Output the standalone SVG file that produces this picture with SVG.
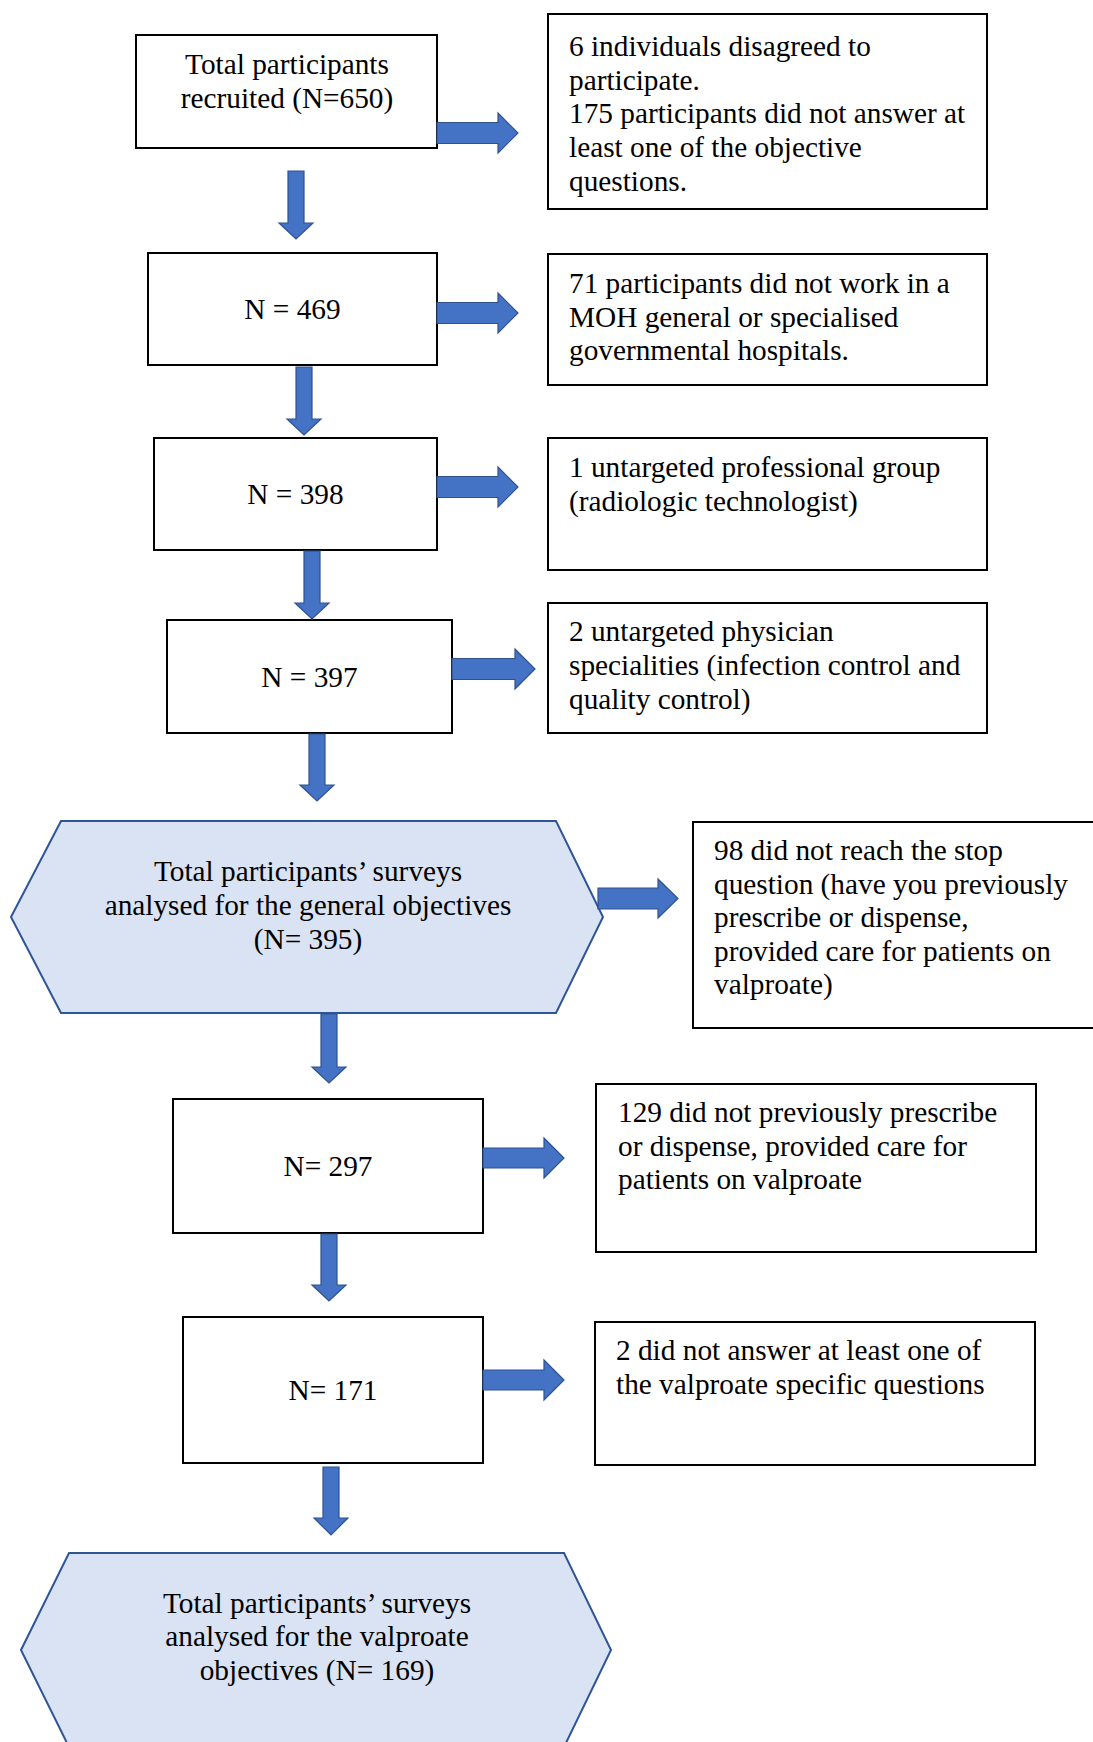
<svg xmlns="http://www.w3.org/2000/svg" width="1093" height="1742" viewBox="0 0 1093 1742">
  <style>
    .box { fill: #ffffff; stroke: #000000; stroke-width: 2; }
    .hex { fill: #dae3f3; stroke: #2f5597; stroke-width: 2; stroke-linejoin: miter; }
    .arrow { fill: #4472c4; stroke: #2f528f; stroke-width: 1.2; stroke-linejoin: miter; }
    text { font-family: "Liberation Serif", "Times New Roman", serif; font-size: 29.3px; fill: #000000; }
    .c { text-anchor: middle; }
  </style>

  <rect width="1093" height="1742" fill="#ffffff"/>

  <!-- main column -->
  <g id="node-recruited">
    <rect class="box" x="136" y="35" width="301" height="113"/>
    <text class="c" x="287" y="74">Total participants</text>
    <text class="c" x="287" y="108">recruited (N=650)</text>
  </g>
  <g id="node-469">
    <rect class="box" x="148" y="253" width="289" height="112"/>
    <text class="c" x="292.5" y="319">N = 469</text>
  </g>
  <g id="node-398">
    <rect class="box" x="154" y="438" width="283" height="112"/>
    <text class="c" x="295.5" y="504">N = 398</text>
  </g>
  <g id="node-397">
    <rect class="box" x="167" y="620" width="285" height="113"/>
    <text class="c" x="309.5" y="687">N = 397</text>
  </g>
  <g id="node-general">
    <polygon class="hex" points="11,917 61,821 556,821 603,917 556,1013 61,1013"/>
    <text class="c" x="308" y="881">Total participants’ surveys</text>
    <text class="c" x="308" y="915">analysed for the general objectives</text>
    <text class="c" x="308" y="949">(N= 395)</text>
  </g>
  <g id="node-297">
    <rect class="box" x="173" y="1099" width="310" height="134"/>
    <text class="c" x="328" y="1176">N= 297</text>
  </g>
  <g id="node-171">
    <rect class="box" x="183" y="1317" width="300" height="146"/>
    <text class="c" x="333" y="1400">N= 171</text>
  </g>
  <g id="node-valproate">
    <polygon class="hex" points="21,1650 69,1553 564,1553 611,1650 564,1747 69,1747"/>
    <text class="c" x="317" y="1613">Total participants’ surveys</text>
    <text class="c" x="317" y="1646">analysed for the valproate</text>
    <text class="c" x="317" y="1680">objectives (N= 169)</text>
  </g>

  <!-- exclusion boxes -->
  <g id="excl-objective">
    <rect class="box" x="548" y="14" width="439" height="195"/>
    <text x="569" y="56">6 individuals disagreed to</text>
    <text x="569" y="90">participate.</text>
    <text x="569" y="123">175 participants did not answer at</text>
    <text x="569" y="157">least one of the objective</text>
    <text x="569" y="191">questions.</text>
  </g>
  <g id="excl-moh">
    <rect class="box" x="548" y="254" width="439" height="131"/>
    <text x="569" y="292.5">71 participants did not work in a</text>
    <text x="569" y="326.5">MOH general or specialised</text>
    <text x="569" y="360">governmental hospitals.</text>
  </g>
  <g id="excl-profession">
    <rect class="box" x="548" y="438" width="439" height="132"/>
    <text x="569" y="477">1 untargeted professional group</text>
    <text x="569" y="511">(radiologic technologist)</text>
  </g>
  <g id="excl-specialty">
    <rect class="box" x="548" y="603" width="439" height="130"/>
    <text x="569" y="641">2 untargeted physician</text>
    <text x="569" y="675">specialities (infection control and</text>
    <text x="569" y="708.5">quality control)</text>
  </g>
  <g id="excl-stop">
    <rect class="box" x="693" y="822" width="410" height="206"/>
    <text x="714" y="860">98 did not reach the stop</text>
    <text x="714" y="894">question (have you previously</text>
    <text x="714" y="927">prescribe or dispense,</text>
    <text x="714" y="961">provided care for patients on</text>
    <text x="714" y="994">valproate)</text>
  </g>
  <g id="excl-no-care">
    <rect class="box" x="596" y="1084" width="440" height="168"/>
    <text x="618" y="1122">129 did not previously prescribe</text>
    <text x="618" y="1155.5">or dispense, provided care for</text>
    <text x="618" y="1189">patients on valproate</text>
  </g>
  <g id="excl-valproate-q">
    <rect class="box" x="595" y="1322" width="440" height="143"/>
    <text x="616" y="1360">2 did not answer at least one of</text>
    <text x="616" y="1394">the valproate specific questions</text>
  </g>

  <!-- block arrows -->
  <g id="connectors">
    <!-- rightward: shaft 21 tall, head 40 tall, head 20 long -->
    <path class="arrow" d="M437,122.5 H498 V113 L518,133 L498,153 V143.5 H437 Z"/>
    <path class="arrow" d="M437,302.5 H498 V293 L518,313 L498,333 V323.5 H437 Z"/>
    <path class="arrow" d="M437,476.5 H498 V467 L518,487 L498,507 V497.5 H437 Z"/>
    <path class="arrow" d="M452,658.5 H515 V649 L535,669 L515,689 V679.5 H452 Z"/>
    <path class="arrow" d="M598,888 H658 V879 L678,898.5 L658,918 V909 H598 Z"/>
    <path class="arrow" d="M483,1148 H544 V1138 L564,1158 L544,1178 V1168 H483 Z"/>
    <path class="arrow" d="M483,1370 H544 V1360 L564,1380 L544,1400 V1390 H483 Z"/>
    <!-- downward: shaft 16 wide, head 34 wide, head 16 long -->
    <path class="arrow" d="M288,171 V223 H279 L296,239 L313,223 H304 V171 Z"/>
    <path class="arrow" d="M296,367 V419 H287 L304,435 L321,419 H312 V367 Z"/>
    <path class="arrow" d="M304,551 V603 H295 L312,619 L329,603 H320 V551 Z"/>
    <path class="arrow" d="M309,734 V785 H300 L317,801 L334,785 H325 V734 Z"/>
    <path class="arrow" d="M321,1014 V1067 H312 L329,1083 L346,1067 H337 V1014 Z"/>
    <path class="arrow" d="M321,1234 V1285 H312 L329,1301 L346,1285 H337 V1234 Z"/>
    <path class="arrow" d="M323,1467 V1518 H314 L331,1535 L348,1518 H339 V1467 Z"/>
  </g>
</svg>
